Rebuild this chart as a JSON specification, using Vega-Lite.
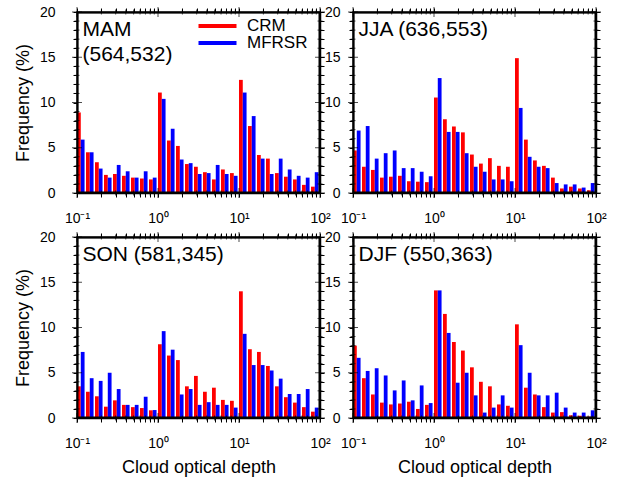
{
  "$schema": "https://vega.github.io/schema/vega-lite/v6.json",
  "background": "white",
  "padding": {"left": 13, "top": 4, "right": 5, "bottom": 5},
  "datasets": {
    "xt": [{"v":0.1},{"v":0.2},{"v":0.3},{"v":0.4},{"v":0.5},{"v":0.6},{"v":0.7},{"v":0.8},{"v":0.9},{"v":1},{"v":2},{"v":3},{"v":4},{"v":5},{"v":6},{"v":7},{"v":8},{"v":9},{"v":10},{"v":20},{"v":30},{"v":40},{"v":50},{"v":60},{"v":70},{"v":80},{"v":90},{"v":100}],
    "yt": [{"v":0},{"v":1},{"v":2},{"v":3},{"v":4},{"v":5},{"v":6},{"v":7},{"v":8},{"v":9},{"v":10},{"v":11},{"v":12},{"v":13},{"v":14},{"v":15},{"v":16},{"v":17},{"v":18},{"v":19},{"v":20}],
    "bins": [
      {"k":0,"lo":0.1,"mid":0.11134,"hi":0.12398},
      {"k":1,"lo":0.12915,"mid":0.1438,"hi":0.16011},
      {"k":2,"lo":0.16681,"mid":0.18573,"hi":0.2068},
      {"k":3,"lo":0.21544,"mid":0.23988,"hi":0.26709},
      {"k":4,"lo":0.27826,"mid":0.30983,"hi":0.34497},
      {"k":5,"lo":0.35938,"mid":0.40015,"hi":0.44554},
      {"k":6,"lo":0.46416,"mid":0.51681,"hi":0.57544},
      {"k":7,"lo":0.59948,"mid":0.66749,"hi":0.7432},
      {"k":8,"lo":0.77426,"mid":0.86209,"hi":0.95989},
      {"k":9,"lo":1,"mid":1.1134,"hi":1.2398},
      {"k":10,"lo":1.2915,"mid":1.438,"hi":1.6011},
      {"k":11,"lo":1.6681,"mid":1.8573,"hi":2.068},
      {"k":12,"lo":2.1544,"mid":2.3988,"hi":2.6709},
      {"k":13,"lo":2.7826,"mid":3.0983,"hi":3.4497},
      {"k":14,"lo":3.5938,"mid":4.0015,"hi":4.4554},
      {"k":15,"lo":4.6416,"mid":5.1681,"hi":5.7544},
      {"k":16,"lo":5.9948,"mid":6.6749,"hi":7.432},
      {"k":17,"lo":7.7426,"mid":8.6209,"hi":9.5989},
      {"k":18,"lo":10,"mid":11.134,"hi":12.398},
      {"k":19,"lo":12.915,"mid":14.38,"hi":16.011},
      {"k":20,"lo":16.681,"mid":18.573,"hi":20.68},
      {"k":21,"lo":21.544,"mid":23.988,"hi":26.709},
      {"k":22,"lo":27.826,"mid":30.983,"hi":34.497},
      {"k":23,"lo":35.938,"mid":40.015,"hi":44.554},
      {"k":24,"lo":46.416,"mid":51.681,"hi":57.544},
      {"k":25,"lo":59.948,"mid":66.749,"hi":74.32},
      {"k":26,"lo":77.426,"mid":86.209,"hi":95.989}
    ],
    "freq": [
      {"s":"MAM","k":0,"crm":8.9,"mfr":5.9},{"s":"MAM","k":1,"crm":4.5,"mfr":4.5},{"s":"MAM","k":2,"crm":3.4,"mfr":2.7},
      {"s":"MAM","k":3,"crm":2.0,"mfr":1.7},{"s":"MAM","k":4,"crm":2.1,"mfr":3.1},{"s":"MAM","k":5,"crm":1.9,"mfr":2.4},
      {"s":"MAM","k":6,"crm":1.7,"mfr":1.7},{"s":"MAM","k":7,"crm":1.6,"mfr":2.4},{"s":"MAM","k":8,"crm":1.5,"mfr":1.7},
      {"s":"MAM","k":9,"crm":11.1,"mfr":10.4},{"s":"MAM","k":10,"crm":5.8,"mfr":7.1},{"s":"MAM","k":11,"crm":5.2,"mfr":3.7},
      {"s":"MAM","k":12,"crm":3.2,"mfr":3.3},{"s":"MAM","k":13,"crm":2.9,"mfr":2.1},{"s":"MAM","k":14,"crm":2.3,"mfr":2.2},
      {"s":"MAM","k":15,"crm":1.5,"mfr":3.1},{"s":"MAM","k":16,"crm":2.6,"mfr":2.1},{"s":"MAM","k":17,"crm":2.2,"mfr":1.9},
      {"s":"MAM","k":18,"crm":12.5,"mfr":11.1},{"s":"MAM","k":19,"crm":7.4,"mfr":8.5},{"s":"MAM","k":20,"crm":4.2,"mfr":3.8},
      {"s":"MAM","k":21,"crm":3.8,"mfr":2.1},{"s":"MAM","k":22,"crm":2.2,"mfr":3.8},{"s":"MAM","k":23,"crm":1.8,"mfr":2.6},
      {"s":"MAM","k":24,"crm":1.5,"mfr":1.9},{"s":"MAM","k":25,"crm":0.9,"mfr":1.7},{"s":"MAM","k":26,"crm":0.7,"mfr":2.3},

      {"s":"JJA","k":0,"crm":4.7,"mfr":6.9},{"s":"JJA","k":1,"crm":2.9,"mfr":7.4},{"s":"JJA","k":2,"crm":2.55,"mfr":3.8},
      {"s":"JJA","k":3,"crm":1.7,"mfr":4.4},{"s":"JJA","k":4,"crm":1.8,"mfr":4.7},{"s":"JJA","k":5,"crm":1.9,"mfr":2.75},
      {"s":"JJA","k":6,"crm":1.3,"mfr":2.75},{"s":"JJA","k":7,"crm":1.25,"mfr":2.35},{"s":"JJA","k":8,"crm":1.2,"mfr":1.85},
      {"s":"JJA","k":9,"crm":10.55,"mfr":12.7},{"s":"JJA","k":10,"crm":8.15,"mfr":6.75},{"s":"JJA","k":11,"crm":7.35,"mfr":6.75},
      {"s":"JJA","k":12,"crm":6.7,"mfr":4.4},{"s":"JJA","k":13,"crm":4.25,"mfr":2.9},{"s":"JJA","k":14,"crm":3.25,"mfr":2.35},
      {"s":"JJA","k":15,"crm":3.85,"mfr":1.5},{"s":"JJA","k":16,"crm":3.0,"mfr":1.5},{"s":"JJA","k":17,"crm":2.9,"mfr":1.3},
      {"s":"JJA","k":18,"crm":14.9,"mfr":9.4},{"s":"JJA","k":19,"crm":5.9,"mfr":4.0},{"s":"JJA","k":20,"crm":3.6,"mfr":2.9},
      {"s":"JJA","k":21,"crm":3.0,"mfr":2.75},{"s":"JJA","k":22,"crm":1.7,"mfr":1.1},{"s":"JJA","k":23,"crm":0.5,"mfr":0.95},
      {"s":"JJA","k":24,"crm":0.7,"mfr":0.95},{"s":"JJA","k":25,"crm":0.5,"mfr":0.6},{"s":"JJA","k":26,"crm":0.3,"mfr":1.1},

      {"s":"SON","k":0,"crm":3.5,"mfr":7.3},{"s":"SON","k":1,"crm":2.9,"mfr":4.4},{"s":"SON","k":2,"crm":2.4,"mfr":4.1},
      {"s":"SON","k":3,"crm":1.25,"mfr":5.0},{"s":"SON","k":4,"crm":1.95,"mfr":3.2},{"s":"SON","k":5,"crm":1.45,"mfr":1.45},
      {"s":"SON","k":6,"crm":1.2,"mfr":1.45},{"s":"SON","k":7,"crm":1.1,"mfr":2.35},{"s":"SON","k":8,"crm":0.85,"mfr":0.88},
      {"s":"SON","k":9,"crm":8.15,"mfr":9.6},{"s":"SON","k":10,"crm":6.9,"mfr":7.55},{"s":"SON","k":11,"crm":6.4,"mfr":2.6},
      {"s":"SON","k":12,"crm":3.5,"mfr":3.2},{"s":"SON","k":13,"crm":4.65,"mfr":1.45},{"s":"SON","k":14,"crm":2.9,"mfr":1.75},
      {"s":"SON","k":15,"crm":3.35,"mfr":1.45},{"s":"SON","k":16,"crm":2.0,"mfr":1.45},{"s":"SON","k":17,"crm":1.9,"mfr":1.15},
      {"s":"SON","k":18,"crm":14.0,"mfr":9.3},{"s":"SON","k":19,"crm":7.6,"mfr":5.85},{"s":"SON","k":20,"crm":7.3,"mfr":5.85},
      {"s":"SON","k":21,"crm":5.75,"mfr":5.25},{"s":"SON","k":22,"crm":3.5,"mfr":4.35},{"s":"SON","k":23,"crm":2.3,"mfr":2.65},
      {"s":"SON","k":24,"crm":1.7,"mfr":2.65},{"s":"SON","k":25,"crm":1.2,"mfr":3.2},{"s":"SON","k":26,"crm":0.7,"mfr":1.15},

      {"s":"DJF","k":0,"crm":8.0,"mfr":6.65},{"s":"DJF","k":1,"crm":4.4,"mfr":5.2},{"s":"DJF","k":2,"crm":2.6,"mfr":5.5},
      {"s":"DJF","k":3,"crm":1.7,"mfr":4.7},{"s":"DJF","k":4,"crm":1.5,"mfr":3.05},{"s":"DJF","k":5,"crm":1.6,"mfr":4.15},
      {"s":"DJF","k":6,"crm":1.8,"mfr":1.95},{"s":"DJF","k":7,"crm":1.0,"mfr":3.6},{"s":"DJF","k":8,"crm":1.45,"mfr":1.65},
      {"s":"DJF","k":9,"crm":14.1,"mfr":14.1},{"s":"DJF","k":10,"crm":11.5,"mfr":9.4},{"s":"DJF","k":11,"crm":8.4,"mfr":3.9},
      {"s":"DJF","k":12,"crm":7.45,"mfr":5.0},{"s":"DJF","k":13,"crm":5.6,"mfr":2.5},{"s":"DJF","k":14,"crm":4.0,"mfr":0.6},
      {"s":"DJF","k":15,"crm":3.5,"mfr":1.15},{"s":"DJF","k":16,"crm":1.5,"mfr":2.5},{"s":"DJF","k":17,"crm":1.35,"mfr":1.15},
      {"s":"DJF","k":18,"crm":10.35,"mfr":8.05},{"s":"DJF","k":19,"crm":3.35,"mfr":5.0},{"s":"DJF","k":20,"crm":2.6,"mfr":2.5},
      {"s":"DJF","k":21,"crm":1.2,"mfr":2.5},{"s":"DJF","k":22,"crm":0.6,"mfr":2.8},{"s":"DJF","k":23,"crm":0.65,"mfr":1.15},
      {"s":"DJF","k":24,"crm":0.3,"mfr":0.6},{"s":"DJF","k":25,"crm":0.25,"mfr":0.6},{"s":"DJF","k":26,"crm":0.15,"mfr":0.85}
    ]
  },
  "columns": 2,
  "spacing": {"row": 44, "column": 33},
  "bounds": "flush",
  "resolve": {"scale": {"color": "independent"}, "legend": {"color": "independent"}},
  "concat": [
    {
      "width": 243, "height": 181,
      "data": {"name": "freq"},
      "transform": [{"filter": "datum.s == 'MAM'"}, {"lookup": "k", "from": {"data": {"name": "bins"}, "key": "k", "fields": ["lo", "mid", "hi"]}}],
      "layer": [
        {"mark": "bar", "encoding": {
          "x": {"field": "lo", "type": "quantitative", "scale": {"type": "log", "domain": [0.1, 100]}, "axis": {"orient": "bottom", "values": [0.1,0.2,0.3,0.4,0.5,0.6,0.7,0.8,0.9,1,2,3,4,5,6,7,8,9,10,20,30,40,50,60,70,80,90,100], "labelExpr": "datum.value == 0.1 ? '10⁻¹' : datum.value == 1 ? '10⁰' : datum.value == 10 ? '10¹' : datum.value == 100 ? '10²' : ''", "domain": true, "ticks": true, "tickSize": 4, "labelPadding": 14, "title": null}},
          "x2": {"field": "mid"},
          "y": {"field": "crm", "type": "quantitative", "scale": {"domain": [0, 20], "nice": false}, "axis": {"orient": "left", "values": [0,1,2,3,4,5,6,7,8,9,10,11,12,13,14,15,16,17,18,19,20], "labelExpr": "datum.value % 5 == 0 ? datum.label : ''", "domain": true, "ticks": true, "tickSize": 4, "labelPadding": 18, "title": "Frequency (%)", "titlePadding": 7}},
          "y2": {"datum": 0},
          "color": {"datum": "CRM", "type": "nominal", "scale": {"domain": ["CRM", "MFRSR"], "range": ["#ff0000", "#0000ff"]}, "legend": {"orient": "none", "legendX": 132, "legendY": 5.5, "title": null, "symbolType": "M-5,-0.5H5V0.5H-5Z", "symbolSize": 57.76, "symbolStrokeWidth": 0, "labelFontSize": 17, "labelOffset": 21, "rowPadding": -1, "labelColor": "black", "labelFont": "Liberation Sans"}}
        }},
        {"mark": "bar", "encoding": {
          "x": {"field": "mid", "type": "quantitative", "axis": {"orient": "top", "values": [0.1,0.2,0.3,0.4,0.5,0.6,0.7,0.8,0.9,1,2,3,4,5,6,7,8,9,10,20,30,40,50,60,70,80,90,100], "labels": false, "domain": true, "ticks": true, "tickSize": 4, "title": ["MAM", "(564,532)"], "titleX": 5, "titleY": 6, "titleAlign": "left", "titleBaseline": "top", "titleAngle": 0, "titleFontSize": 21, "titleLineHeight": 25}},
          "x2": {"field": "hi"},
          "y": {"field": "mfr", "type": "quantitative", "axis": {"orient": "right", "values": [0,1,2,3,4,5,6,7,8,9,10,11,12,13,14,15,16,17,18,19,20], "labels": false, "domain": true, "ticks": true, "tickSize": 4, "title": null}},
          "y2": {"datum": 0},
          "color": {"datum": "MFRSR", "type": "nominal"}
        }},
        {"data": {"values": [{}]}, "mark": {"type": "rect", "color": "black"}, "encoding": {"x": {"datum": 0.1, "type": "quantitative", "axis": null}, "x2": {"datum": 0.10436}, "y": {"datum": 0, "type": "quantitative", "axis": null}, "y2": {"datum": 20}}},
        {"data": {"values": [{}]}, "mark": {"type": "rect", "color": "black"}, "encoding": {"x": {"datum": 95.82, "type": "quantitative", "axis": null}, "x2": {"datum": 100}, "y": {"datum": 0, "type": "quantitative", "axis": null}, "y2": {"datum": 20}}},
        {"data": {"values": [{}]}, "mark": {"type": "rect", "color": "black"}, "encoding": {"x": {"datum": 0.1, "type": "quantitative", "axis": null}, "x2": {"datum": 100}, "y": {"datum": 19.834, "type": "quantitative", "axis": null}, "y2": {"datum": 20}}},
        {"data": {"values": [{}]}, "mark": {"type": "rect", "color": "black"}, "encoding": {"x": {"datum": 0.1, "type": "quantitative", "axis": null}, "x2": {"datum": 100}, "y": {"datum": 0, "type": "quantitative", "axis": null}, "y2": {"datum": 0.166}}},
        {"data": {"name": "xt"}, "mark": {"type": "tick", "color": "black", "orient": "vertical", "thickness": 1}, "encoding": {"x": {"field": "v", "type": "quantitative", "axis": null}, "y": {"datum": 0, "type": "quantitative", "axis": null}, "size": {"condition": {"test": "datum.v == 0.1 || datum.v == 1 || datum.v == 10 || datum.v == 100", "value": 10}, "value": 5}}},
        {"data": {"name": "xt"}, "mark": {"type": "tick", "color": "black", "orient": "vertical", "thickness": 1}, "encoding": {"x": {"field": "v", "type": "quantitative", "axis": null}, "y": {"datum": 20, "type": "quantitative", "axis": null}, "size": {"condition": {"test": "datum.v == 0.1 || datum.v == 1 || datum.v == 10 || datum.v == 100", "value": 10}, "value": 5}}},
        {"data": {"name": "yt"}, "mark": {"type": "tick", "color": "black", "orient": "horizontal", "thickness": 1}, "encoding": {"y": {"field": "v", "type": "quantitative", "axis": null}, "x": {"datum": 0.1, "type": "quantitative", "axis": null}, "size": {"condition": {"test": "datum.v % 5 == 0", "value": 10}, "value": 5}}},
        {"data": {"name": "yt"}, "mark": {"type": "tick", "color": "black", "orient": "horizontal", "thickness": 1}, "encoding": {"y": {"field": "v", "type": "quantitative", "axis": null}, "x": {"datum": 100, "type": "quantitative", "axis": null}, "size": {"condition": {"test": "datum.v % 5 == 0", "value": 10}, "value": 5}}}
      ],
      "resolve": {"axis": {"x": "independent", "y": "independent"}}
    },
    {
      "width": 243, "height": 181,
      "data": {"name": "freq"},
      "transform": [{"filter": "datum.s == 'JJA'"}, {"lookup": "k", "from": {"data": {"name": "bins"}, "key": "k", "fields": ["lo", "mid", "hi"]}}],
      "layer": [
        {"mark": "bar", "encoding": {
          "x": {"field": "lo", "type": "quantitative", "scale": {"type": "log", "domain": [0.1, 100]}, "axis": {"orient": "bottom", "values": [0.1,0.2,0.3,0.4,0.5,0.6,0.7,0.8,0.9,1,2,3,4,5,6,7,8,9,10,20,30,40,50,60,70,80,90,100], "labelExpr": "datum.value == 0.1 ? '10⁻¹' : datum.value == 1 ? '10⁰' : datum.value == 10 ? '10¹' : datum.value == 100 ? '10²' : ''", "domain": true, "ticks": true, "tickSize": 4, "labelPadding": 14, "title": null}},
          "x2": {"field": "mid"},
          "y": {"field": "crm", "type": "quantitative", "scale": {"domain": [0, 20], "nice": false}, "axis": {"orient": "left", "values": [0,1,2,3,4,5,6,7,8,9,10,11,12,13,14,15,16,17,18,19,20], "labelExpr": "datum.value % 5 == 0 ? datum.label : ''", "domain": true, "ticks": true, "tickSize": 4, "labelPadding": 9, "title": null}},
          "y2": {"datum": 0},
          "color": {"datum": "CRM", "type": "nominal", "scale": {"domain": ["CRM", "MFRSR"], "range": ["#ff0000", "#0000ff"]}, "legend": null}
        }},
        {"mark": "bar", "encoding": {
          "x": {"field": "mid", "type": "quantitative", "axis": {"orient": "top", "values": [0.1,0.2,0.3,0.4,0.5,0.6,0.7,0.8,0.9,1,2,3,4,5,6,7,8,9,10,20,30,40,50,60,70,80,90,100], "labels": false, "domain": true, "ticks": true, "tickSize": 4, "title": "JJA (636,553)", "titleX": 5, "titleY": 6, "titleAlign": "left", "titleBaseline": "top", "titleAngle": 0, "titleFontSize": 21}},
          "x2": {"field": "hi"},
          "y": {"field": "mfr", "type": "quantitative", "axis": {"orient": "right", "values": [0,1,2,3,4,5,6,7,8,9,10,11,12,13,14,15,16,17,18,19,20], "labels": false, "domain": true, "ticks": true, "tickSize": 4, "title": null}},
          "y2": {"datum": 0},
          "color": {"datum": "MFRSR", "type": "nominal"}
        }},
        {"data": {"values": [{}]}, "mark": {"type": "rect", "color": "black"}, "encoding": {"x": {"datum": 0.1, "type": "quantitative", "axis": null}, "x2": {"datum": 0.10436}, "y": {"datum": 0, "type": "quantitative", "axis": null}, "y2": {"datum": 20}}},
        {"data": {"values": [{}]}, "mark": {"type": "rect", "color": "black"}, "encoding": {"x": {"datum": 95.82, "type": "quantitative", "axis": null}, "x2": {"datum": 100}, "y": {"datum": 0, "type": "quantitative", "axis": null}, "y2": {"datum": 20}}},
        {"data": {"values": [{}]}, "mark": {"type": "rect", "color": "black"}, "encoding": {"x": {"datum": 0.1, "type": "quantitative", "axis": null}, "x2": {"datum": 100}, "y": {"datum": 19.834, "type": "quantitative", "axis": null}, "y2": {"datum": 20}}},
        {"data": {"values": [{}]}, "mark": {"type": "rect", "color": "black"}, "encoding": {"x": {"datum": 0.1, "type": "quantitative", "axis": null}, "x2": {"datum": 100}, "y": {"datum": 0, "type": "quantitative", "axis": null}, "y2": {"datum": 0.166}}},
        {"data": {"name": "xt"}, "mark": {"type": "tick", "color": "black", "orient": "vertical", "thickness": 1}, "encoding": {"x": {"field": "v", "type": "quantitative", "axis": null}, "y": {"datum": 0, "type": "quantitative", "axis": null}, "size": {"condition": {"test": "datum.v == 0.1 || datum.v == 1 || datum.v == 10 || datum.v == 100", "value": 10}, "value": 5}}},
        {"data": {"name": "xt"}, "mark": {"type": "tick", "color": "black", "orient": "vertical", "thickness": 1}, "encoding": {"x": {"field": "v", "type": "quantitative", "axis": null}, "y": {"datum": 20, "type": "quantitative", "axis": null}, "size": {"condition": {"test": "datum.v == 0.1 || datum.v == 1 || datum.v == 10 || datum.v == 100", "value": 10}, "value": 5}}},
        {"data": {"name": "yt"}, "mark": {"type": "tick", "color": "black", "orient": "horizontal", "thickness": 1}, "encoding": {"y": {"field": "v", "type": "quantitative", "axis": null}, "x": {"datum": 0.1, "type": "quantitative", "axis": null}, "size": {"condition": {"test": "datum.v % 5 == 0", "value": 10}, "value": 5}}},
        {"data": {"name": "yt"}, "mark": {"type": "tick", "color": "black", "orient": "horizontal", "thickness": 1}, "encoding": {"y": {"field": "v", "type": "quantitative", "axis": null}, "x": {"datum": 100, "type": "quantitative", "axis": null}, "size": {"condition": {"test": "datum.v % 5 == 0", "value": 10}, "value": 5}}}
      ],
      "resolve": {"axis": {"x": "independent", "y": "independent"}}
    },
    {
      "width": 243, "height": 181,
      "data": {"name": "freq"},
      "transform": [{"filter": "datum.s == 'SON'"}, {"lookup": "k", "from": {"data": {"name": "bins"}, "key": "k", "fields": ["lo", "mid", "hi"]}}],
      "layer": [
        {"mark": "bar", "encoding": {
          "x": {"field": "lo", "type": "quantitative", "scale": {"type": "log", "domain": [0.1, 100]}, "axis": {"orient": "bottom", "values": [0.1,0.2,0.3,0.4,0.5,0.6,0.7,0.8,0.9,1,2,3,4,5,6,7,8,9,10,20,30,40,50,60,70,80,90,100], "labelExpr": "datum.value == 0.1 ? '10⁻¹' : datum.value == 1 ? '10⁰' : datum.value == 10 ? '10¹' : datum.value == 100 ? '10²' : ''", "domain": true, "ticks": true, "tickSize": 4, "labelPadding": 14, "title": "Cloud optical depth", "titlePadding": 8}},
          "x2": {"field": "mid"},
          "y": {"field": "crm", "type": "quantitative", "scale": {"domain": [0, 20], "nice": false}, "axis": {"orient": "left", "values": [0,1,2,3,4,5,6,7,8,9,10,11,12,13,14,15,16,17,18,19,20], "labelExpr": "datum.value % 5 == 0 ? datum.label : ''", "domain": true, "ticks": true, "tickSize": 4, "labelPadding": 18, "title": "Frequency (%)", "titlePadding": 7}},
          "y2": {"datum": 0},
          "color": {"datum": "CRM", "type": "nominal", "scale": {"domain": ["CRM", "MFRSR"], "range": ["#ff0000", "#0000ff"]}, "legend": null}
        }},
        {"mark": "bar", "encoding": {
          "x": {"field": "mid", "type": "quantitative", "axis": {"orient": "top", "values": [0.1,0.2,0.3,0.4,0.5,0.6,0.7,0.8,0.9,1,2,3,4,5,6,7,8,9,10,20,30,40,50,60,70,80,90,100], "labels": false, "domain": true, "ticks": true, "tickSize": 4, "title": "SON (581,345)", "titleX": 5, "titleY": 6, "titleAlign": "left", "titleBaseline": "top", "titleAngle": 0, "titleFontSize": 21}},
          "x2": {"field": "hi"},
          "y": {"field": "mfr", "type": "quantitative", "axis": {"orient": "right", "values": [0,1,2,3,4,5,6,7,8,9,10,11,12,13,14,15,16,17,18,19,20], "labels": false, "domain": true, "ticks": true, "tickSize": 4, "title": null}},
          "y2": {"datum": 0},
          "color": {"datum": "MFRSR", "type": "nominal"}
        }},
        {"data": {"values": [{}]}, "mark": {"type": "rect", "color": "black"}, "encoding": {"x": {"datum": 0.1, "type": "quantitative", "axis": null}, "x2": {"datum": 0.10436}, "y": {"datum": 0, "type": "quantitative", "axis": null}, "y2": {"datum": 20}}},
        {"data": {"values": [{}]}, "mark": {"type": "rect", "color": "black"}, "encoding": {"x": {"datum": 95.82, "type": "quantitative", "axis": null}, "x2": {"datum": 100}, "y": {"datum": 0, "type": "quantitative", "axis": null}, "y2": {"datum": 20}}},
        {"data": {"values": [{}]}, "mark": {"type": "rect", "color": "black"}, "encoding": {"x": {"datum": 0.1, "type": "quantitative", "axis": null}, "x2": {"datum": 100}, "y": {"datum": 19.834, "type": "quantitative", "axis": null}, "y2": {"datum": 20}}},
        {"data": {"values": [{}]}, "mark": {"type": "rect", "color": "black"}, "encoding": {"x": {"datum": 0.1, "type": "quantitative", "axis": null}, "x2": {"datum": 100}, "y": {"datum": 0, "type": "quantitative", "axis": null}, "y2": {"datum": 0.166}}},
        {"data": {"name": "xt"}, "mark": {"type": "tick", "color": "black", "orient": "vertical", "thickness": 1}, "encoding": {"x": {"field": "v", "type": "quantitative", "axis": null}, "y": {"datum": 0, "type": "quantitative", "axis": null}, "size": {"condition": {"test": "datum.v == 0.1 || datum.v == 1 || datum.v == 10 || datum.v == 100", "value": 10}, "value": 5}}},
        {"data": {"name": "xt"}, "mark": {"type": "tick", "color": "black", "orient": "vertical", "thickness": 1}, "encoding": {"x": {"field": "v", "type": "quantitative", "axis": null}, "y": {"datum": 20, "type": "quantitative", "axis": null}, "size": {"condition": {"test": "datum.v == 0.1 || datum.v == 1 || datum.v == 10 || datum.v == 100", "value": 10}, "value": 5}}},
        {"data": {"name": "yt"}, "mark": {"type": "tick", "color": "black", "orient": "horizontal", "thickness": 1}, "encoding": {"y": {"field": "v", "type": "quantitative", "axis": null}, "x": {"datum": 0.1, "type": "quantitative", "axis": null}, "size": {"condition": {"test": "datum.v % 5 == 0", "value": 10}, "value": 5}}},
        {"data": {"name": "yt"}, "mark": {"type": "tick", "color": "black", "orient": "horizontal", "thickness": 1}, "encoding": {"y": {"field": "v", "type": "quantitative", "axis": null}, "x": {"datum": 100, "type": "quantitative", "axis": null}, "size": {"condition": {"test": "datum.v % 5 == 0", "value": 10}, "value": 5}}}
      ],
      "resolve": {"axis": {"x": "independent", "y": "independent"}}
    },
    {
      "width": 243, "height": 181,
      "data": {"name": "freq"},
      "transform": [{"filter": "datum.s == 'DJF'"}, {"lookup": "k", "from": {"data": {"name": "bins"}, "key": "k", "fields": ["lo", "mid", "hi"]}}],
      "layer": [
        {"mark": "bar", "encoding": {
          "x": {"field": "lo", "type": "quantitative", "scale": {"type": "log", "domain": [0.1, 100]}, "axis": {"orient": "bottom", "values": [0.1,0.2,0.3,0.4,0.5,0.6,0.7,0.8,0.9,1,2,3,4,5,6,7,8,9,10,20,30,40,50,60,70,80,90,100], "labelExpr": "datum.value == 0.1 ? '10⁻¹' : datum.value == 1 ? '10⁰' : datum.value == 10 ? '10¹' : datum.value == 100 ? '10²' : ''", "domain": true, "ticks": true, "tickSize": 4, "labelPadding": 14, "title": "Cloud optical depth", "titlePadding": 8}},
          "x2": {"field": "mid"},
          "y": {"field": "crm", "type": "quantitative", "scale": {"domain": [0, 20], "nice": false}, "axis": {"orient": "left", "values": [0,1,2,3,4,5,6,7,8,9,10,11,12,13,14,15,16,17,18,19,20], "labelExpr": "datum.value % 5 == 0 ? datum.label : ''", "domain": true, "ticks": true, "tickSize": 4, "labelPadding": 9, "title": null}},
          "y2": {"datum": 0},
          "color": {"datum": "CRM", "type": "nominal", "scale": {"domain": ["CRM", "MFRSR"], "range": ["#ff0000", "#0000ff"]}, "legend": null}
        }},
        {"mark": "bar", "encoding": {
          "x": {"field": "mid", "type": "quantitative", "axis": {"orient": "top", "values": [0.1,0.2,0.3,0.4,0.5,0.6,0.7,0.8,0.9,1,2,3,4,5,6,7,8,9,10,20,30,40,50,60,70,80,90,100], "labels": false, "domain": true, "ticks": true, "tickSize": 4, "title": "DJF (550,363)", "titleX": 5, "titleY": 6, "titleAlign": "left", "titleBaseline": "top", "titleAngle": 0, "titleFontSize": 21}},
          "x2": {"field": "hi"},
          "y": {"field": "mfr", "type": "quantitative", "axis": {"orient": "right", "values": [0,1,2,3,4,5,6,7,8,9,10,11,12,13,14,15,16,17,18,19,20], "labels": false, "domain": true, "ticks": true, "tickSize": 4, "title": null}},
          "y2": {"datum": 0},
          "color": {"datum": "MFRSR", "type": "nominal"}
        }},
        {"data": {"values": [{}]}, "mark": {"type": "rect", "color": "black"}, "encoding": {"x": {"datum": 0.1, "type": "quantitative", "axis": null}, "x2": {"datum": 0.10436}, "y": {"datum": 0, "type": "quantitative", "axis": null}, "y2": {"datum": 20}}},
        {"data": {"values": [{}]}, "mark": {"type": "rect", "color": "black"}, "encoding": {"x": {"datum": 95.82, "type": "quantitative", "axis": null}, "x2": {"datum": 100}, "y": {"datum": 0, "type": "quantitative", "axis": null}, "y2": {"datum": 20}}},
        {"data": {"values": [{}]}, "mark": {"type": "rect", "color": "black"}, "encoding": {"x": {"datum": 0.1, "type": "quantitative", "axis": null}, "x2": {"datum": 100}, "y": {"datum": 19.834, "type": "quantitative", "axis": null}, "y2": {"datum": 20}}},
        {"data": {"values": [{}]}, "mark": {"type": "rect", "color": "black"}, "encoding": {"x": {"datum": 0.1, "type": "quantitative", "axis": null}, "x2": {"datum": 100}, "y": {"datum": 0, "type": "quantitative", "axis": null}, "y2": {"datum": 0.166}}},
        {"data": {"name": "xt"}, "mark": {"type": "tick", "color": "black", "orient": "vertical", "thickness": 1}, "encoding": {"x": {"field": "v", "type": "quantitative", "axis": null}, "y": {"datum": 0, "type": "quantitative", "axis": null}, "size": {"condition": {"test": "datum.v == 0.1 || datum.v == 1 || datum.v == 10 || datum.v == 100", "value": 10}, "value": 5}}},
        {"data": {"name": "xt"}, "mark": {"type": "tick", "color": "black", "orient": "vertical", "thickness": 1}, "encoding": {"x": {"field": "v", "type": "quantitative", "axis": null}, "y": {"datum": 20, "type": "quantitative", "axis": null}, "size": {"condition": {"test": "datum.v == 0.1 || datum.v == 1 || datum.v == 10 || datum.v == 100", "value": 10}, "value": 5}}},
        {"data": {"name": "yt"}, "mark": {"type": "tick", "color": "black", "orient": "horizontal", "thickness": 1}, "encoding": {"y": {"field": "v", "type": "quantitative", "axis": null}, "x": {"datum": 0.1, "type": "quantitative", "axis": null}, "size": {"condition": {"test": "datum.v % 5 == 0", "value": 10}, "value": 5}}},
        {"data": {"name": "yt"}, "mark": {"type": "tick", "color": "black", "orient": "horizontal", "thickness": 1}, "encoding": {"y": {"field": "v", "type": "quantitative", "axis": null}, "x": {"datum": 100, "type": "quantitative", "axis": null}, "size": {"condition": {"test": "datum.v % 5 == 0", "value": 10}, "value": 5}}}
      ],
      "resolve": {"axis": {"x": "independent", "y": "independent"}}
    }
  ],
  "config": {
    "view": {"stroke": "black", "strokeWidth": 1.5},
    "font": "Liberation Sans",
    "axis": {"grid": false, "domain": false, "tickColor": "#000000", "domainColor": "#000000", "domainWidth": 1.5, "labelColor": "black", "labelFontSize": 14, "labelFont": "Liberation Sans", "labelFlush": false, "labelOverlap": false, "titleFontSize": 18, "titleFontWeight": "normal", "titleColor": "black", "titleFont": "Liberation Sans"}
  }
}
